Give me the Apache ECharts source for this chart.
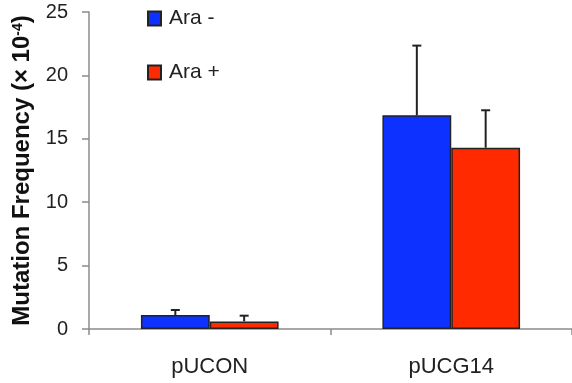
<!DOCTYPE html>
<html>
<head>
<meta charset="utf-8">
<script src="https://cdn.jsdelivr.net/npm/echarts@6/dist/echarts.min.js"></script>
<style>html,body{margin:0;padding:0;background:#fff}#c{width:572px;height:383px}</style>
</head>
<body>
<div id="c"></div>
<script>
const categories = ['pUCON', 'pUCG14'];
const seriesNames = ['Ara -', 'Ara +'];
const araMinus = [1.1, 16.85];
const araPlus = [0.6, 14.3];
const araMinusErr = [0.4, 5.5];
const araPlusErr = [0.45, 2.95];
const yTicks = [0, 5, 10, 15, 20, 25];

const colors = ['#0d32ff', '#ff2a00'];
const font = '"Liberation Sans", Arial, sans-serif';
const catGap = 0.43;

function errSeries(vals, errs, side) {
  return {
    type: 'custom',
    silent: true,
    z: 5,
    data: categories.map((c, i) => [i, vals[i], vals[i] + errs[i]]),
    renderItem: function (params, api) {
      const bw = api.size([1, 0])[0];
      const off = side * bw * (1 - catGap) / 4;
      const base = api.coord([api.value(0), api.value(1)]);
      const top = api.coord([api.value(0), api.value(2)]);
      const x = base[0] + off;
      const cap = 4.5;
      const style = { stroke: '#222', lineWidth: 2 };
      return {
        type: 'group',
        children: [
          { type: 'line', shape: { x1: x, y1: base[1], x2: x, y2: top[1] }, style: style },
          { type: 'line', shape: { x1: x - cap, y1: top[1], x2: x + cap, y2: top[1] }, style: style }
        ]
      };
    }
  };
}

const chart = echarts.init(document.getElementById('c'));
chart.setOption({
  animation: false,
  textStyle: { fontFamily: font },
  grid: { left: 89, top: 12, bottom: 54, width: 486 },
  legend: {
    orient: 'vertical',
    left: 147,
    top: 8,
    padding: 0,
    icon: 'rect',
    itemWidth: 13,
    itemHeight: 14,
    itemGap: 33,
    data: seriesNames,
    textStyle: { fontFamily: font, fontSize: 21, color: '#222', padding: [4, 0, 0, 3] }
  },
  xAxis: {
    type: 'category',
    data: categories,
    axisLine: { lineStyle: { color: '#8c8c8c', width: 1.5 } },
    axisTick: { show: true, length: 6, lineStyle: { color: '#8c8c8c', width: 1.5 } },
    axisLabel: { margin: 27, fontSize: 22, color: '#222', fontFamily: font }
  },
  yAxis: {
    type: 'value',
    min: yTicks[0],
    max: yTicks[yTicks.length - 1],
    interval: 5,
    splitLine: { show: false },
    axisLine: { show: true, lineStyle: { color: '#8c8c8c', width: 1.5 } },
    axisTick: { show: true, length: 7, lineStyle: { color: '#8c8c8c', width: 1.5 } },
    axisLabel: { margin: 21, fontSize: 20, color: '#222', fontFamily: font },
    name: 'Mutation Frequency (× 10{sup|-4})',
    nameLocation: 'middle',
    nameGap: 51,
    nameTextStyle: {
      fontSize: 24, fontWeight: 'bold', color: '#111', fontFamily: font,
      rich: { sup: { fontSize: 14, fontWeight: 'bold', color: '#111', fontFamily: font, verticalAlign: 'top', lineHeight: 13 } }
    }
  },
  series: [
    {
      name: seriesNames[0], type: 'bar', data: araMinus,
      barGap: '0%', barCategoryGap: (catGap * 100) + '%',
      itemStyle: { color: colors[0], borderColor: '#222', borderWidth: 1.5 }
    },
    {
      name: seriesNames[1], type: 'bar', data: araPlus,
      barGap: '0%', barCategoryGap: (catGap * 100) + '%',
      itemStyle: { color: colors[1], borderColor: '#222', borderWidth: 1.5 }
    },
    errSeries(araMinus, araMinusErr, -1),
    errSeries(araPlus, araPlusErr, 1)
  ]
});
</script>
</body>
</html>
